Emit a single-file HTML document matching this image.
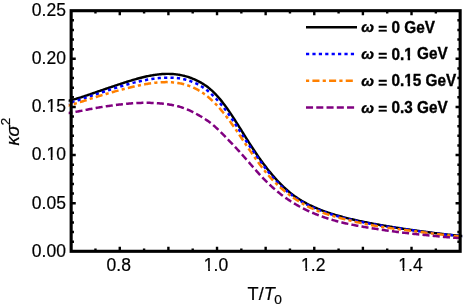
<!DOCTYPE html>
<html><head><meta charset="utf-8"><title>plot</title>
<style>
html,body{margin:0;padding:0;background:#fff;}
body{width:463px;height:305px;overflow:hidden;font-family:"Liberation Sans",sans-serif;}
svg{display:block;will-change:transform;}
text{font-family:"Liberation Sans",sans-serif;fill:#000;stroke:#000;stroke-width:0.2px;}
.lg{font-size:15.3px;font-weight:bold;stroke:#000;stroke-width:0.35px;}
</style></head><body>
<svg width="463" height="305" viewBox="0 0 463 305">
<rect width="463" height="305" fill="#fff"/>
<clipPath id="c"><rect x="68.65" y="10.7" width="393.6" height="240.60000000000002"/></clipPath>
<g clip-path="url(#c)" fill="none" stroke-linecap="butt" stroke-linejoin="round">
<path d="M66.0,101.36 L67.0,101.12 L68.0,100.87 L69.0,100.63 L70.0,100.38 L71.0,100.14 L72.0,99.89 L73.0,99.64 L74.0,99.38 L75.0,99.11 L76.0,98.83 L77.0,98.54 L78.0,98.24 L79.0,97.94 L80.0,97.63 L81.0,97.31 L82.0,96.99 L83.0,96.66 L84.0,96.33 L85.0,96.00 L86.0,95.66 L87.0,95.32 L88.0,94.98 L89.0,94.64 L90.0,94.29 L91.0,93.95 L92.0,93.60 L93.0,93.25 L94.0,92.91 L95.0,92.56 L96.0,92.21 L97.0,91.87 L98.0,91.52 L99.0,91.18 L100.0,90.83 L101.0,90.49 L102.0,90.14 L103.0,89.80 L104.0,89.46 L105.0,89.11 L106.0,88.77 L107.0,88.43 L108.0,88.09 L109.0,87.75 L110.0,87.41 L111.0,87.07 L112.0,86.73 L113.0,86.39 L114.0,86.05 L115.0,85.71 L116.0,85.38 L117.0,85.04 L118.0,84.71 L119.0,84.38 L120.0,84.05 L121.0,83.72 L122.0,83.39 L123.0,83.07 L124.0,82.74 L125.0,82.42 L126.0,82.10 L127.0,81.79 L128.0,81.47 L129.0,81.16 L130.0,80.85 L131.0,80.55 L132.0,80.25 L133.0,79.95 L134.0,79.66 L135.0,79.37 L136.0,79.08 L137.0,78.80 L138.0,78.53 L139.0,78.26 L140.0,77.99 L141.0,77.73 L142.0,77.48 L143.0,77.24 L144.0,77.00 L145.0,76.76 L146.0,76.54 L147.0,76.32 L148.0,76.11 L149.0,75.90 L150.0,75.71 L151.0,75.52 L152.0,75.34 L153.0,75.17 L154.0,75.01 L155.0,74.86 L156.0,74.72 L157.0,74.59 L158.0,74.47 L159.0,74.36 L160.0,74.26 L161.0,74.17 L162.0,74.09 L163.0,74.03 L164.0,73.97 L165.0,73.93 L166.0,73.90 L167.0,73.88 L168.0,73.88 L169.0,73.89 L170.0,73.91 L171.0,73.95 L172.0,74.00 L173.0,74.06 L174.0,74.14 L175.0,74.24 L176.0,74.35 L177.0,74.47 L178.0,74.61 L179.0,74.77 L180.0,74.95 L181.0,75.14 L182.0,75.34 L183.0,75.57 L184.0,75.81 L185.0,76.07 L186.0,76.35 L187.0,76.64 L188.0,76.95 L189.0,77.28 L190.0,77.63 L191.0,78.00 L192.0,78.38 L193.0,78.79 L194.0,79.21 L195.0,79.64 L196.0,80.10 L197.0,80.58 L198.0,81.07 L199.0,81.59 L200.0,82.12 L201.0,82.68 L202.0,83.27 L203.0,83.88 L204.0,84.51 L205.0,85.18 L206.0,85.86 L207.0,86.58 L208.0,87.34 L209.0,88.12 L210.0,88.95 L211.0,89.81 L212.0,90.70 L213.0,91.63 L214.0,92.60 L215.0,93.61 L216.0,94.65 L217.0,95.73 L218.0,96.84 L219.0,97.99 L220.0,99.16 L221.0,100.38 L222.0,101.62 L223.0,102.89 L224.0,104.19 L225.0,105.52 L226.0,106.89 L227.0,108.29 L228.0,109.71 L229.0,111.15 L230.0,112.62 L231.0,114.10 L232.0,115.61 L233.0,117.13 L234.0,118.67 L235.0,120.23 L236.0,121.80 L237.0,123.38 L238.0,124.96 L239.0,126.56 L240.0,128.16 L241.0,129.76 L242.0,131.37 L243.0,132.98 L244.0,134.59 L245.0,136.19 L246.0,137.79 L247.0,139.38 L248.0,140.97 L249.0,142.55 L250.0,144.12 L251.0,145.68 L252.0,147.22 L253.0,148.76 L254.0,150.28 L255.0,151.78 L256.0,153.26 L257.0,154.73 L258.0,156.19 L259.0,157.62 L260.0,159.03 L261.0,160.43 L262.0,161.81 L263.0,163.17 L264.0,164.50 L265.0,165.82 L266.0,167.12 L267.0,168.41 L268.0,169.67 L269.0,170.91 L270.0,172.14 L271.0,173.35 L272.0,174.53 L273.0,175.71 L274.0,176.86 L275.0,177.99 L276.0,179.10 L277.0,180.20 L278.0,181.28 L279.0,182.33 L280.0,183.37 L281.0,184.38 L282.0,185.38 L283.0,186.35 L284.0,187.31 L285.0,188.24 L286.0,189.15 L287.0,190.04 L288.0,190.91 L289.0,191.75 L290.0,192.58 L291.0,193.38 L292.0,194.16 L293.0,194.92 L294.0,195.66 L295.0,196.39 L296.0,197.09 L297.0,197.77 L298.0,198.44 L299.0,199.09 L300.0,199.72 L301.0,200.33 L302.0,200.93 L303.0,201.52 L304.0,202.09 L305.0,202.65 L306.0,203.19 L307.0,203.72 L308.0,204.24 L309.0,204.74 L310.0,205.24 L311.0,205.72 L312.0,206.20 L313.0,206.66 L314.0,207.11 L315.0,207.56 L316.0,207.99 L317.0,208.42 L318.0,208.83 L319.0,209.24 L320.0,209.64 L321.0,210.04 L322.0,210.42 L323.0,210.80 L324.0,211.17 L325.0,211.53 L326.0,211.89 L327.0,212.24 L328.0,212.58 L329.0,212.92 L330.0,213.25 L331.0,213.57 L332.0,213.89 L333.0,214.21 L334.0,214.51 L335.0,214.82 L336.0,215.11 L337.0,215.41 L338.0,215.70 L339.0,215.98 L340.0,216.26 L341.0,216.53 L342.0,216.80 L343.0,217.07 L344.0,217.33 L345.0,217.59 L346.0,217.85 L347.0,218.10 L348.0,218.34 L349.0,218.59 L350.0,218.83 L351.0,219.07 L352.0,219.30 L353.0,219.53 L354.0,219.76 L355.0,219.99 L356.0,220.21 L357.0,220.43 L358.0,220.65 L359.0,220.87 L360.0,221.08 L361.0,221.29 L362.0,221.50 L363.0,221.70 L364.0,221.91 L365.0,222.11 L366.0,222.31 L367.0,222.51 L368.0,222.70 L369.0,222.90 L370.0,223.09 L371.0,223.28 L372.0,223.47 L373.0,223.66 L374.0,223.84 L375.0,224.03 L376.0,224.21 L377.0,224.39 L378.0,224.57 L379.0,224.75 L380.0,224.93 L381.0,225.10 L382.0,225.28 L383.0,225.45 L384.0,225.62 L385.0,225.79 L386.0,225.96 L387.0,226.13 L388.0,226.30 L389.0,226.47 L390.0,226.63 L391.0,226.80 L392.0,226.96 L393.0,227.12 L394.0,227.28 L395.0,227.44 L396.0,227.60 L397.0,227.76 L398.0,227.92 L399.0,228.07 L400.0,228.23 L401.0,228.38 L402.0,228.53 L403.0,228.69 L404.0,228.84 L405.0,228.99 L406.0,229.14 L407.0,229.29 L408.0,229.43 L409.0,229.58 L410.0,229.73 L411.0,229.87 L412.0,230.01 L413.0,230.16 L414.0,230.30 L415.0,230.44 L416.0,230.58 L417.0,230.72 L418.0,230.86 L419.0,231.00 L420.0,231.13 L421.0,231.27 L422.0,231.40 L423.0,231.54 L424.0,231.67 L425.0,231.80 L426.0,231.94 L427.0,232.07 L428.0,232.20 L429.0,232.33 L430.0,232.46 L431.0,232.58 L432.0,232.71 L433.0,232.84 L434.0,232.96 L435.0,233.09 L436.0,233.21 L437.0,233.33 L438.0,233.46 L439.0,233.58 L440.0,233.70 L441.0,233.81 L442.0,233.93 L443.0,234.05 L444.0,234.16 L445.0,234.28 L446.0,234.39 L447.0,234.50 L448.0,234.61 L449.0,234.72 L450.0,234.83 L451.0,234.93 L452.0,235.03 L453.0,235.14 L454.0,235.24 L455.0,235.33 L456.0,235.43 L457.0,235.52 L458.0,235.62 L459.0,235.71 L460.0,235.80 L461.0,235.89 L462.0,235.98 L463.0,236.07 L464.0,236.16" stroke="#000000" stroke-width="2.45"/>
<path d="M66.0,104.21 L67.0,103.88 L68.0,103.55 L69.0,103.23 L70.0,102.90 L71.0,102.57 L72.0,102.24 L73.0,101.91 L74.0,101.59 L75.0,101.26 L76.0,100.93 L77.0,100.60 L78.0,100.28 L79.0,99.95 L80.0,99.62 L81.0,99.30 L82.0,98.97 L83.0,98.64 L84.0,98.32 L85.0,97.99 L86.0,97.66 L87.0,97.33 L88.0,97.00 L89.0,96.67 L90.0,96.34 L91.0,96.01 L92.0,95.68 L93.0,95.34 L94.0,95.01 L95.0,94.68 L96.0,94.35 L97.0,94.02 L98.0,93.68 L99.0,93.35 L100.0,93.02 L101.0,92.69 L102.0,92.35 L103.0,92.02 L104.0,91.69 L105.0,91.36 L106.0,91.03 L107.0,90.70 L108.0,90.38 L109.0,90.05 L110.0,89.73 L111.0,89.40 L112.0,89.08 L113.0,88.76 L114.0,88.44 L115.0,88.13 L116.0,87.81 L117.0,87.50 L118.0,87.19 L119.0,86.88 L120.0,86.58 L121.0,86.28 L122.0,85.98 L123.0,85.68 L124.0,85.39 L125.0,85.10 L126.0,84.81 L127.0,84.53 L128.0,84.25 L129.0,83.97 L130.0,83.70 L131.0,83.43 L132.0,83.16 L133.0,82.90 L134.0,82.65 L135.0,82.40 L136.0,82.15 L137.0,81.91 L138.0,81.67 L139.0,81.44 L140.0,81.21 L141.0,80.99 L142.0,80.77 L143.0,80.56 L144.0,80.36 L145.0,80.16 L146.0,79.97 L147.0,79.78 L148.0,79.60 L149.0,79.43 L150.0,79.26 L151.0,79.10 L152.0,78.95 L153.0,78.81 L154.0,78.67 L155.0,78.54 L156.0,78.42 L157.0,78.30 L158.0,78.20 L159.0,78.10 L160.0,78.01 L161.0,77.93 L162.0,77.86 L163.0,77.80 L164.0,77.75 L165.0,77.71 L166.0,77.67 L167.0,77.65 L168.0,77.64 L169.0,77.64 L170.0,77.65 L171.0,77.68 L172.0,77.71 L173.0,77.76 L174.0,77.82 L175.0,77.90 L176.0,77.99 L177.0,78.09 L178.0,78.21 L179.0,78.35 L180.0,78.50 L181.0,78.67 L182.0,78.85 L183.0,79.06 L184.0,79.28 L185.0,79.52 L186.0,79.78 L187.0,80.06 L188.0,80.36 L189.0,80.68 L190.0,81.02 L191.0,81.38 L192.0,81.76 L193.0,82.16 L194.0,82.58 L195.0,83.02 L196.0,83.49 L197.0,83.97 L198.0,84.48 L199.0,85.01 L200.0,85.57 L201.0,86.16 L202.0,86.77 L203.0,87.40 L204.0,88.07 L205.0,88.77 L206.0,89.50 L207.0,90.27 L208.0,91.07 L209.0,91.90 L210.0,92.77 L211.0,93.67 L212.0,94.60 L213.0,95.58 L214.0,96.58 L215.0,97.62 L216.0,98.68 L217.0,99.76 L218.0,100.87 L219.0,102.01 L220.0,103.16 L221.0,104.34 L222.0,105.54 L223.0,106.76 L224.0,108.01 L225.0,109.29 L226.0,110.60 L227.0,111.93 L228.0,113.29 L229.0,114.69 L230.0,116.11 L231.0,117.55 L232.0,119.02 L233.0,120.51 L234.0,122.03 L235.0,123.56 L236.0,125.11 L237.0,126.68 L238.0,128.25 L239.0,129.82 L240.0,131.39 L241.0,132.96 L242.0,134.53 L243.0,136.08 L244.0,137.63 L245.0,139.17 L246.0,140.69 L247.0,142.21 L248.0,143.71 L249.0,145.19 L250.0,146.67 L251.0,148.13 L252.0,149.59 L253.0,151.03 L254.0,152.47 L255.0,153.89 L256.0,155.31 L257.0,156.72 L258.0,158.12 L259.0,159.52 L260.0,160.90 L261.0,162.27 L262.0,163.64 L263.0,164.99 L264.0,166.33 L265.0,167.65 L266.0,168.96 L267.0,170.25 L268.0,171.52 L269.0,172.77 L270.0,174.00 L271.0,175.21 L272.0,176.39 L273.0,177.55 L274.0,178.68 L275.0,179.79 L276.0,180.88 L277.0,181.94 L278.0,182.98 L279.0,183.99 L280.0,184.98 L281.0,185.94 L282.0,186.88 L283.0,187.80 L284.0,188.70 L285.0,189.58 L286.0,190.44 L287.0,191.28 L288.0,192.10 L289.0,192.90 L290.0,193.69 L291.0,194.46 L292.0,195.21 L293.0,195.94 L294.0,196.66 L295.0,197.36 L296.0,198.05 L297.0,198.72 L298.0,199.38 L299.0,200.02 L300.0,200.65 L301.0,201.26 L302.0,201.86 L303.0,202.44 L304.0,203.01 L305.0,203.56 L306.0,204.11 L307.0,204.64 L308.0,205.15 L309.0,205.66 L310.0,206.15 L311.0,206.63 L312.0,207.09 L313.0,207.55 L314.0,208.00 L315.0,208.43 L316.0,208.85 L317.0,209.27 L318.0,209.67 L319.0,210.07 L320.0,210.45 L321.0,210.83 L322.0,211.20 L323.0,211.56 L324.0,211.91 L325.0,212.26 L326.0,212.60 L327.0,212.94 L328.0,213.26 L329.0,213.59 L330.0,213.90 L331.0,214.21 L332.0,214.52 L333.0,214.82 L334.0,215.12 L335.0,215.41 L336.0,215.70 L337.0,215.99 L338.0,216.27 L339.0,216.54 L340.0,216.82 L341.0,217.09 L342.0,217.36 L343.0,217.62 L344.0,217.88 L345.0,218.14 L346.0,218.39 L347.0,218.65 L348.0,218.90 L349.0,219.14 L350.0,219.39 L351.0,219.63 L352.0,219.87 L353.0,220.10 L354.0,220.33 L355.0,220.56 L356.0,220.79 L357.0,221.01 L358.0,221.23 L359.0,221.45 L360.0,221.67 L361.0,221.88 L362.0,222.09 L363.0,222.30 L364.0,222.50 L365.0,222.70 L366.0,222.90 L367.0,223.10 L368.0,223.29 L369.0,223.48 L370.0,223.67 L371.0,223.85 L372.0,224.04 L373.0,224.22 L374.0,224.39 L375.0,224.57 L376.0,224.74 L377.0,224.92 L378.0,225.08 L379.0,225.25 L380.0,225.42 L381.0,225.58 L382.0,225.74 L383.0,225.90 L384.0,226.06 L385.0,226.22 L386.0,226.37 L387.0,226.53 L388.0,226.68 L389.0,226.83 L390.0,226.98 L391.0,227.13 L392.0,227.28 L393.0,227.43 L394.0,227.57 L395.0,227.72 L396.0,227.87 L397.0,228.01 L398.0,228.16 L399.0,228.30 L400.0,228.45 L401.0,228.59 L402.0,228.74 L403.0,228.88 L404.0,229.02 L405.0,229.17 L406.0,229.31 L407.0,229.46 L408.0,229.60 L409.0,229.75 L410.0,229.89 L411.0,230.03 L412.0,230.18 L413.0,230.32 L414.0,230.46 L415.0,230.61 L416.0,230.75 L417.0,230.89 L418.0,231.04 L419.0,231.18 L420.0,231.32 L421.0,231.46 L422.0,231.60 L423.0,231.74 L424.0,231.88 L425.0,232.01 L426.0,232.15 L427.0,232.28 L428.0,232.42 L429.0,232.55 L430.0,232.68 L431.0,232.81 L432.0,232.93 L433.0,233.06 L434.0,233.18 L435.0,233.30 L436.0,233.42 L437.0,233.54 L438.0,233.66 L439.0,233.77 L440.0,233.88 L441.0,233.99 L442.0,234.10 L443.0,234.21 L444.0,234.32 L445.0,234.43 L446.0,234.53 L447.0,234.64 L448.0,234.74 L449.0,234.84 L450.0,234.95 L451.0,235.05 L452.0,235.15 L453.0,235.26 L454.0,235.36 L455.0,235.47 L456.0,235.58 L457.0,235.69 L458.0,235.80 L459.0,235.91 L460.0,236.02 L461.0,236.14 L462.0,236.25 L463.0,236.36 L464.0,236.47" stroke="#0000ff" stroke-width="2.5" stroke-dasharray="3.2 3.205" stroke-dashoffset="0.61"/>
<path d="M66.0,106.21 L67.0,105.94 L68.0,105.67 L69.0,105.39 L70.0,105.12 L71.0,104.84 L72.0,104.57 L73.0,104.29 L74.0,104.01 L75.0,103.71 L76.0,103.42 L77.0,103.11 L78.0,102.80 L79.0,102.49 L80.0,102.17 L81.0,101.85 L82.0,101.53 L83.0,101.21 L84.0,100.89 L85.0,100.56 L86.0,100.23 L87.0,99.91 L88.0,99.58 L89.0,99.26 L90.0,98.93 L91.0,98.61 L92.0,98.29 L93.0,97.97 L94.0,97.65 L95.0,97.33 L96.0,97.02 L97.0,96.71 L98.0,96.39 L99.0,96.09 L100.0,95.78 L101.0,95.48 L102.0,95.17 L103.0,94.87 L104.0,94.58 L105.0,94.28 L106.0,93.98 L107.0,93.69 L108.0,93.40 L109.0,93.11 L110.0,92.82 L111.0,92.54 L112.0,92.25 L113.0,91.97 L114.0,91.69 L115.0,91.41 L116.0,91.13 L117.0,90.86 L118.0,90.58 L119.0,90.31 L120.0,90.04 L121.0,89.77 L122.0,89.51 L123.0,89.24 L124.0,88.98 L125.0,88.72 L126.0,88.47 L127.0,88.21 L128.0,87.96 L129.0,87.72 L130.0,87.47 L131.0,87.23 L132.0,86.99 L133.0,86.75 L134.0,86.52 L135.0,86.29 L136.0,86.07 L137.0,85.85 L138.0,85.63 L139.0,85.42 L140.0,85.21 L141.0,85.01 L142.0,84.81 L143.0,84.61 L144.0,84.43 L145.0,84.24 L146.0,84.07 L147.0,83.90 L148.0,83.73 L149.0,83.58 L150.0,83.42 L151.0,83.28 L152.0,83.14 L153.0,83.01 L154.0,82.89 L155.0,82.78 L156.0,82.67 L157.0,82.57 L158.0,82.48 L159.0,82.40 L160.0,82.33 L161.0,82.27 L162.0,82.22 L163.0,82.18 L164.0,82.15 L165.0,82.13 L166.0,82.12 L167.0,82.12 L168.0,82.14 L169.0,82.17 L170.0,82.21 L171.0,82.26 L172.0,82.32 L173.0,82.40 L174.0,82.50 L175.0,82.60 L176.0,82.72 L177.0,82.86 L178.0,83.01 L179.0,83.18 L180.0,83.37 L181.0,83.57 L182.0,83.79 L183.0,84.03 L184.0,84.28 L185.0,84.55 L186.0,84.85 L187.0,85.16 L188.0,85.49 L189.0,85.84 L190.0,86.21 L191.0,86.60 L192.0,87.02 L193.0,87.45 L194.0,87.91 L195.0,88.39 L196.0,88.89 L197.0,89.42 L198.0,89.97 L199.0,90.54 L200.0,91.14 L201.0,91.76 L202.0,92.41 L203.0,93.09 L204.0,93.79 L205.0,94.52 L206.0,95.28 L207.0,96.06 L208.0,96.88 L209.0,97.72 L210.0,98.59 L211.0,99.49 L212.0,100.41 L213.0,101.37 L214.0,102.35 L215.0,103.36 L216.0,104.39 L217.0,105.45 L218.0,106.53 L219.0,107.64 L220.0,108.78 L221.0,109.94 L222.0,111.12 L223.0,112.32 L224.0,113.55 L225.0,114.80 L226.0,116.08 L227.0,117.37 L228.0,118.69 L229.0,120.03 L230.0,121.38 L231.0,122.76 L232.0,124.16 L233.0,125.57 L234.0,126.99 L235.0,128.43 L236.0,129.89 L237.0,131.35 L238.0,132.83 L239.0,134.31 L240.0,135.79 L241.0,137.28 L242.0,138.78 L243.0,140.27 L244.0,141.77 L245.0,143.26 L246.0,144.75 L247.0,146.24 L248.0,147.72 L249.0,149.20 L250.0,150.67 L251.0,152.13 L252.0,153.58 L253.0,155.02 L254.0,156.45 L255.0,157.87 L256.0,159.27 L257.0,160.66 L258.0,162.04 L259.0,163.40 L260.0,164.75 L261.0,166.07 L262.0,167.38 L263.0,168.67 L264.0,169.94 L265.0,171.19 L266.0,172.42 L267.0,173.63 L268.0,174.81 L269.0,175.97 L270.0,177.10 L271.0,178.22 L272.0,179.30 L273.0,180.37 L274.0,181.41 L275.0,182.42 L276.0,183.42 L277.0,184.39 L278.0,185.33 L279.0,186.26 L280.0,187.17 L281.0,188.05 L282.0,188.92 L283.0,189.77 L284.0,190.60 L285.0,191.42 L286.0,192.22 L287.0,193.01 L288.0,193.78 L289.0,194.54 L290.0,195.29 L291.0,196.02 L292.0,196.74 L293.0,197.45 L294.0,198.14 L295.0,198.83 L296.0,199.50 L297.0,200.16 L298.0,200.80 L299.0,201.44 L300.0,202.06 L301.0,202.66 L302.0,203.26 L303.0,203.84 L304.0,204.41 L305.0,204.96 L306.0,205.50 L307.0,206.03 L308.0,206.54 L309.0,207.05 L310.0,207.53 L311.0,208.01 L312.0,208.47 L313.0,208.92 L314.0,209.36 L315.0,209.79 L316.0,210.21 L317.0,210.61 L318.0,211.01 L319.0,211.39 L320.0,211.77 L321.0,212.13 L322.0,212.49 L323.0,212.84 L324.0,213.18 L325.0,213.52 L326.0,213.85 L327.0,214.17 L328.0,214.49 L329.0,214.80 L330.0,215.10 L331.0,215.40 L332.0,215.70 L333.0,215.99 L334.0,216.28 L335.0,216.57 L336.0,216.85 L337.0,217.13 L338.0,217.40 L339.0,217.67 L340.0,217.94 L341.0,218.21 L342.0,218.47 L343.0,218.74 L344.0,219.00 L345.0,219.25 L346.0,219.51 L347.0,219.76 L348.0,220.01 L349.0,220.26 L350.0,220.51 L351.0,220.75 L352.0,220.99 L353.0,221.23 L354.0,221.47 L355.0,221.70 L356.0,221.93 L357.0,222.16 L358.0,222.39 L359.0,222.61 L360.0,222.83 L361.0,223.05 L362.0,223.26 L363.0,223.47 L364.0,223.68 L365.0,223.88 L366.0,224.09 L367.0,224.28 L368.0,224.48 L369.0,224.67 L370.0,224.86 L371.0,225.05 L372.0,225.23 L373.0,225.42 L374.0,225.59 L375.0,225.77 L376.0,225.94 L377.0,226.11 L378.0,226.28 L379.0,226.44 L380.0,226.61 L381.0,226.77 L382.0,226.92 L383.0,227.08 L384.0,227.23 L385.0,227.38 L386.0,227.53 L387.0,227.67 L388.0,227.82 L389.0,227.96 L390.0,228.10 L391.0,228.24 L392.0,228.38 L393.0,228.51 L394.0,228.65 L395.0,228.78 L396.0,228.92 L397.0,229.05 L398.0,229.18 L399.0,229.31 L400.0,229.44 L401.0,229.57 L402.0,229.70 L403.0,229.83 L404.0,229.96 L405.0,230.09 L406.0,230.21 L407.0,230.34 L408.0,230.47 L409.0,230.60 L410.0,230.72 L411.0,230.85 L412.0,230.98 L413.0,231.10 L414.0,231.23 L415.0,231.36 L416.0,231.48 L417.0,231.61 L418.0,231.73 L419.0,231.86 L420.0,231.99 L421.0,232.11 L422.0,232.24 L423.0,232.36 L424.0,232.49 L425.0,232.61 L426.0,232.74 L427.0,232.86 L428.0,232.98 L429.0,233.11 L430.0,233.23 L431.0,233.35 L432.0,233.47 L433.0,233.59 L434.0,233.71 L435.0,233.83 L436.0,233.95 L437.0,234.06 L438.0,234.18 L439.0,234.29 L440.0,234.41 L441.0,234.52 L442.0,234.63 L443.0,234.74 L444.0,234.85 L445.0,234.96 L446.0,235.07 L447.0,235.17 L448.0,235.28 L449.0,235.38 L450.0,235.48 L451.0,235.58 L452.0,235.68 L453.0,235.77 L454.0,235.87 L455.0,235.96 L456.0,236.06 L457.0,236.15 L458.0,236.24 L459.0,236.33 L460.0,236.42 L461.0,236.51 L462.0,236.60 L463.0,236.69 L464.0,236.79" stroke="#ff8000" stroke-width="2.5" stroke-dasharray="3.2 3.2 7.07 3.2" stroke-dashoffset="8.6"/>
<path d="M66.0,113.38 L67.0,113.23 L68.0,113.08 L69.0,112.93 L70.0,112.78 L71.0,112.63 L72.0,112.48 L73.0,112.32 L74.0,112.15 L75.0,111.98 L76.0,111.80 L77.0,111.62 L78.0,111.43 L79.0,111.25 L80.0,111.05 L81.0,110.86 L82.0,110.66 L83.0,110.47 L84.0,110.27 L85.0,110.07 L86.0,109.87 L87.0,109.68 L88.0,109.48 L89.0,109.29 L90.0,109.10 L91.0,108.90 L92.0,108.72 L93.0,108.53 L94.0,108.34 L95.0,108.16 L96.0,107.98 L97.0,107.81 L98.0,107.64 L99.0,107.46 L100.0,107.30 L101.0,107.13 L102.0,106.97 L103.0,106.81 L104.0,106.65 L105.0,106.50 L106.0,106.35 L107.0,106.20 L108.0,106.05 L109.0,105.91 L110.0,105.77 L111.0,105.63 L112.0,105.49 L113.0,105.36 L114.0,105.23 L115.0,105.10 L116.0,104.97 L117.0,104.85 L118.0,104.73 L119.0,104.61 L120.0,104.50 L121.0,104.39 L122.0,104.28 L123.0,104.17 L124.0,104.07 L125.0,103.97 L126.0,103.87 L127.0,103.78 L128.0,103.69 L129.0,103.60 L130.0,103.52 L131.0,103.44 L132.0,103.37 L133.0,103.30 L134.0,103.23 L135.0,103.17 L136.0,103.11 L137.0,103.06 L138.0,103.01 L139.0,102.97 L140.0,102.93 L141.0,102.90 L142.0,102.87 L143.0,102.85 L144.0,102.84 L145.0,102.83 L146.0,102.82 L147.0,102.82 L148.0,102.83 L149.0,102.85 L150.0,102.87 L151.0,102.89 L152.0,102.93 L153.0,102.96 L154.0,103.01 L155.0,103.06 L156.0,103.12 L157.0,103.19 L158.0,103.26 L159.0,103.34 L160.0,103.42 L161.0,103.51 L162.0,103.61 L163.0,103.72 L164.0,103.83 L165.0,103.95 L166.0,104.07 L167.0,104.21 L168.0,104.35 L169.0,104.50 L170.0,104.66 L171.0,104.82 L172.0,105.00 L173.0,105.19 L174.0,105.39 L175.0,105.60 L176.0,105.82 L177.0,106.06 L178.0,106.31 L179.0,106.58 L180.0,106.86 L181.0,107.16 L182.0,107.48 L183.0,107.82 L184.0,108.17 L185.0,108.55 L186.0,108.94 L187.0,109.35 L188.0,109.77 L189.0,110.22 L190.0,110.68 L191.0,111.15 L192.0,111.64 L193.0,112.14 L194.0,112.65 L195.0,113.18 L196.0,113.71 L197.0,114.26 L198.0,114.82 L199.0,115.38 L200.0,115.96 L201.0,116.54 L202.0,117.14 L203.0,117.75 L204.0,118.38 L205.0,119.03 L206.0,119.69 L207.0,120.37 L208.0,121.08 L209.0,121.81 L210.0,122.56 L211.0,123.34 L212.0,124.14 L213.0,124.96 L214.0,125.81 L215.0,126.68 L216.0,127.57 L217.0,128.48 L218.0,129.41 L219.0,130.36 L220.0,131.33 L221.0,132.31 L222.0,133.31 L223.0,134.32 L224.0,135.34 L225.0,136.37 L226.0,137.40 L227.0,138.44 L228.0,139.49 L229.0,140.54 L230.0,141.59 L231.0,142.64 L232.0,143.70 L233.0,144.76 L234.0,145.82 L235.0,146.88 L236.0,147.95 L237.0,149.02 L238.0,150.10 L239.0,151.18 L240.0,152.27 L241.0,153.37 L242.0,154.48 L243.0,155.60 L244.0,156.72 L245.0,157.85 L246.0,158.99 L247.0,160.13 L248.0,161.28 L249.0,162.43 L250.0,163.58 L251.0,164.74 L252.0,165.89 L253.0,167.04 L254.0,168.18 L255.0,169.32 L256.0,170.45 L257.0,171.57 L258.0,172.69 L259.0,173.79 L260.0,174.88 L261.0,175.96 L262.0,177.02 L263.0,178.07 L264.0,179.11 L265.0,180.13 L266.0,181.13 L267.0,182.13 L268.0,183.10 L269.0,184.07 L270.0,185.01 L271.0,185.94 L272.0,186.86 L273.0,187.76 L274.0,188.64 L275.0,189.51 L276.0,190.37 L277.0,191.21 L278.0,192.03 L279.0,192.84 L280.0,193.64 L281.0,194.42 L282.0,195.18 L283.0,195.94 L284.0,196.67 L285.0,197.40 L286.0,198.11 L287.0,198.81 L288.0,199.49 L289.0,200.16 L290.0,200.82 L291.0,201.47 L292.0,202.10 L293.0,202.72 L294.0,203.33 L295.0,203.93 L296.0,204.52 L297.0,205.10 L298.0,205.66 L299.0,206.22 L300.0,206.76 L301.0,207.30 L302.0,207.82 L303.0,208.34 L304.0,208.85 L305.0,209.34 L306.0,209.83 L307.0,210.31 L308.0,210.78 L309.0,211.24 L310.0,211.69 L311.0,212.14 L312.0,212.58 L313.0,213.00 L314.0,213.43 L315.0,213.84 L316.0,214.25 L317.0,214.64 L318.0,215.03 L319.0,215.42 L320.0,215.80 L321.0,216.17 L322.0,216.53 L323.0,216.88 L324.0,217.23 L325.0,217.58 L326.0,217.91 L327.0,218.24 L328.0,218.56 L329.0,218.88 L330.0,219.19 L331.0,219.50 L332.0,219.79 L333.0,220.09 L334.0,220.37 L335.0,220.65 L336.0,220.93 L337.0,221.20 L338.0,221.46 L339.0,221.72 L340.0,221.98 L341.0,222.23 L342.0,222.47 L343.0,222.71 L344.0,222.95 L345.0,223.18 L346.0,223.41 L347.0,223.63 L348.0,223.85 L349.0,224.06 L350.0,224.27 L351.0,224.48 L352.0,224.69 L353.0,224.89 L354.0,225.09 L355.0,225.28 L356.0,225.47 L357.0,225.66 L358.0,225.85 L359.0,226.04 L360.0,226.22 L361.0,226.40 L362.0,226.58 L363.0,226.75 L364.0,226.93 L365.0,227.10 L366.0,227.27 L367.0,227.44 L368.0,227.60 L369.0,227.77 L370.0,227.93 L371.0,228.10 L372.0,228.26 L373.0,228.42 L374.0,228.58 L375.0,228.73 L376.0,228.89 L377.0,229.04 L378.0,229.20 L379.0,229.35 L380.0,229.50 L381.0,229.65 L382.0,229.80 L383.0,229.95 L384.0,230.10 L385.0,230.24 L386.0,230.39 L387.0,230.53 L388.0,230.67 L389.0,230.81 L390.0,230.95 L391.0,231.09 L392.0,231.23 L393.0,231.36 L394.0,231.50 L395.0,231.63 L396.0,231.76 L397.0,231.89 L398.0,232.02 L399.0,232.15 L400.0,232.27 L401.0,232.40 L402.0,232.52 L403.0,232.64 L404.0,232.76 L405.0,232.88 L406.0,233.00 L407.0,233.11 L408.0,233.23 L409.0,233.34 L410.0,233.45 L411.0,233.56 L412.0,233.67 L413.0,233.78 L414.0,233.89 L415.0,233.99 L416.0,234.10 L417.0,234.20 L418.0,234.31 L419.0,234.41 L420.0,234.51 L421.0,234.61 L422.0,234.71 L423.0,234.81 L424.0,234.91 L425.0,235.01 L426.0,235.11 L427.0,235.21 L428.0,235.31 L429.0,235.41 L430.0,235.51 L431.0,235.61 L432.0,235.71 L433.0,235.81 L434.0,235.92 L435.0,236.02 L436.0,236.12 L437.0,236.22 L438.0,236.32 L439.0,236.42 L440.0,236.52 L441.0,236.62 L442.0,236.72 L443.0,236.81 L444.0,236.91 L445.0,237.00 L446.0,237.09 L447.0,237.18 L448.0,237.27 L449.0,237.36 L450.0,237.44 L451.0,237.51 L452.0,237.59 L453.0,237.66 L454.0,237.72 L455.0,237.78 L456.0,237.83 L457.0,237.88 L458.0,237.93 L459.0,237.98 L460.0,238.03 L461.0,238.08 L462.0,238.13 L463.0,238.17 L464.0,238.22" stroke="#800080" stroke-width="2.5" stroke-dasharray="7.06 3.2" stroke-dashoffset="0.67"/>
</g>
<rect x="71.15" y="10.7" width="389.0" height="240.60000000000002" fill="none" stroke="#000" stroke-width="3.1"/>
<path d="M95.46,251.3 v-2.8 M95.46,10.7 v2.8 M119.77,251.3 v-4.6 M119.77,10.7 v4.6 M144.09,251.3 v-2.8 M144.09,10.7 v2.8 M168.40,251.3 v-4.6 M168.40,10.7 v4.6 M192.71,251.3 v-2.8 M192.71,10.7 v2.8 M217.03,251.3 v-4.6 M217.03,10.7 v4.6 M241.34,251.3 v-2.8 M241.34,10.7 v2.8 M265.65,251.3 v-4.6 M265.65,10.7 v4.6 M289.96,251.3 v-2.8 M289.96,10.7 v2.8 M314.27,251.3 v-4.6 M314.27,10.7 v4.6 M338.59,251.3 v-2.8 M338.59,10.7 v2.8 M362.90,251.3 v-4.6 M362.90,10.7 v4.6 M387.21,251.3 v-2.8 M387.21,10.7 v2.8 M411.52,251.3 v-4.6 M411.52,10.7 v4.6 M435.84,251.3 v-2.8 M435.84,10.7 v2.8 M71.15,241.68 h2.8 M460.15,241.68 h-2.8 M71.15,232.05 h2.8 M460.15,232.05 h-2.8 M71.15,222.43 h2.8 M460.15,222.43 h-2.8 M71.15,212.80 h2.8 M460.15,212.80 h-2.8 M71.15,203.18 h4.6 M460.15,203.18 h-4.6 M71.15,193.56 h2.8 M460.15,193.56 h-2.8 M71.15,183.93 h2.8 M460.15,183.93 h-2.8 M71.15,174.31 h2.8 M460.15,174.31 h-2.8 M71.15,164.68 h2.8 M460.15,164.68 h-2.8 M71.15,155.06 h4.6 M460.15,155.06 h-4.6 M71.15,145.44 h2.8 M460.15,145.44 h-2.8 M71.15,135.81 h2.8 M460.15,135.81 h-2.8 M71.15,126.19 h2.8 M460.15,126.19 h-2.8 M71.15,116.56 h2.8 M460.15,116.56 h-2.8 M71.15,106.94 h4.6 M460.15,106.94 h-4.6 M71.15,97.32 h2.8 M460.15,97.32 h-2.8 M71.15,87.69 h2.8 M460.15,87.69 h-2.8 M71.15,78.07 h2.8 M460.15,78.07 h-2.8 M71.15,68.44 h2.8 M460.15,68.44 h-2.8 M71.15,58.82 h4.6 M460.15,58.82 h-4.6 M71.15,49.20 h2.8 M460.15,49.20 h-2.8 M71.15,39.57 h2.8 M460.15,39.57 h-2.8 M71.15,29.95 h2.8 M460.15,29.95 h-2.8 M71.15,20.32 h2.8 M460.15,20.32 h-2.8" stroke="#000" stroke-width="2.4" fill="none"/>
<text x="118.78" y="271.0" font-size="17.5" text-anchor="middle">0.8</text>
<text x="216.03" y="271.0" font-size="17.5" text-anchor="middle">1.0</text>
<rect x="204.29" y="267.99" width="3.87" height="4.61" fill="#fff"/><rect x="209.91" y="267.99" width="3.73" height="4.61" fill="#fff"/>
<text x="313.27" y="271.0" font-size="17.5" text-anchor="middle">1.2</text>
<rect x="301.54" y="267.99" width="3.87" height="4.61" fill="#fff"/><rect x="307.16" y="267.99" width="3.73" height="4.61" fill="#fff"/>
<text x="410.52" y="271.0" font-size="17.5" text-anchor="middle">1.4</text>
<rect x="398.79" y="267.99" width="3.87" height="4.61" fill="#fff"/><rect x="404.41" y="267.99" width="3.73" height="4.61" fill="#fff"/>
<text x="65.9" y="256.70" font-size="17.5" text-anchor="end">0.00</text>
<text x="65.9" y="208.58" font-size="17.5" text-anchor="end">0.05</text>
<text x="65.9" y="160.46" font-size="17.5" text-anchor="end">0.10</text>
<rect x="46.87" y="157.45" width="3.87" height="4.61" fill="#fff"/><rect x="52.48" y="157.45" width="3.73" height="4.61" fill="#fff"/>
<text x="65.9" y="112.34" font-size="17.5" text-anchor="end">0.15</text>
<rect x="46.87" y="109.33" width="3.87" height="4.61" fill="#fff"/><rect x="52.48" y="109.33" width="3.73" height="4.61" fill="#fff"/>
<text x="65.9" y="64.22" font-size="17.5" text-anchor="end">0.20</text>
<text x="65.9" y="16.10" font-size="17.5" text-anchor="end">0.25</text>
<text x="247.6" y="300.4" font-size="18.1">T/<tspan font-style="italic">T</tspan><tspan font-size="13.7" dx="-0.5" dy="3.1">0</tspan></text>
<text transform="translate(18.8,145.5) rotate(-90)" font-size="18.5" font-style="italic">κσ<tspan font-style="normal" font-size="13.4" dy="-8.9">2</tspan></text>
<path d="M306,27.2 H357.0" stroke="#000000" stroke-width="2.45" fill="none"/>
<text class="lg" transform="translate(361.3,32.2) scale(1,0.95)" font-style="italic">ω</text>
<text class="lg" x="378.32" y="34.1">=</text>
<text class="lg" transform="translate(391.51,32.7) scale(1,1.045)">0</text>
<text class="lg" transform="translate(404.27,32.5) scale(1,1.05)">GeV</text>
<path d="M306,54.0 H354.6" stroke="#0000ff" stroke-width="2.5" fill="none" stroke-dasharray="3.2 3.205"/>
<text class="lg" transform="translate(361.3,59.0) scale(1,0.95)" font-style="italic">ω</text>
<text class="lg" x="378.32" y="60.9">=</text>
<text class="lg" transform="translate(391.51,59.5) scale(1,1.045)">0.1</text>
<text class="lg" transform="translate(417.02,59.3) scale(1,1.05)">GeV</text>
<rect x="404.33" y="56.17" width="3.33" height="4.93" fill="#fff"/><rect x="410.11" y="56.17" width="3.14" height="4.93" fill="#fff"/>
<path d="M306,80.8 H354.6" stroke="#ff8000" stroke-width="2.5" fill="none" stroke-dasharray="3.2 3.2 7.07 3.2"/>
<text class="lg" transform="translate(361.3,85.8) scale(1,0.95)" font-style="italic">ω</text>
<text class="lg" x="378.32" y="87.7">=</text>
<text class="lg" transform="translate(391.51,86.3) scale(1,1.045)">0.15</text>
<text class="lg" transform="translate(425.54,86.1) scale(1,1.05)">GeV</text>
<rect x="404.33" y="82.97" width="3.33" height="4.93" fill="#fff"/><rect x="410.11" y="82.97" width="3.14" height="4.93" fill="#fff"/>
<path d="M306,107.5 H354.6" stroke="#800080" stroke-width="2.5" fill="none" stroke-dasharray="7.06 3.2"/>
<text class="lg" transform="translate(361.3,112.5) scale(1,0.95)" font-style="italic">ω</text>
<text class="lg" x="378.32" y="114.4">=</text>
<text class="lg" transform="translate(391.51,113.0) scale(1,1.045)">0.3</text>
<text class="lg" transform="translate(417.02,112.8) scale(1,1.05)">GeV</text>
</svg></body></html>
